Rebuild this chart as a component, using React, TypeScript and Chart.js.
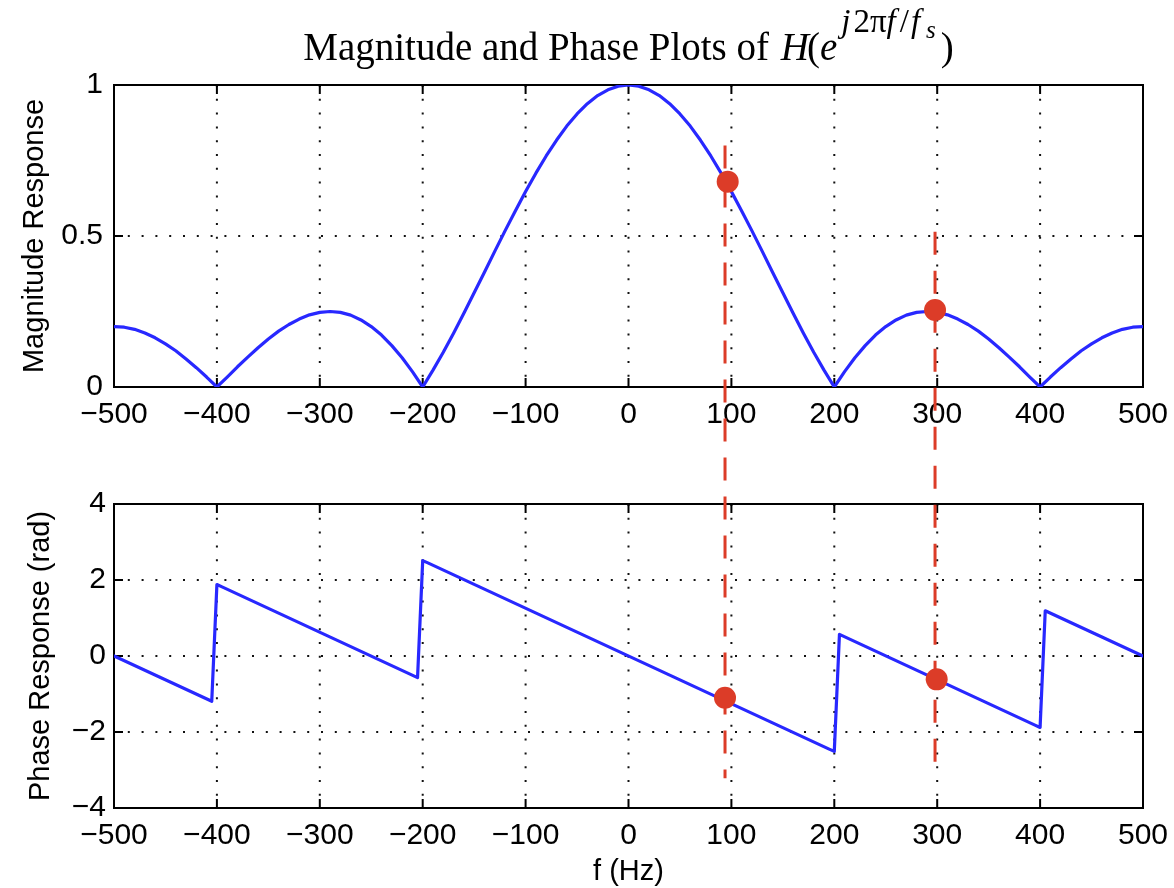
import React, { useEffect, useRef } from "react";
import { Chart, registerables } from "chart.js";

Chart.register(...registerables);

// ---------- data ----------
const FREQ_HZ = [
  -500, -490, -480, -470, -460, -450, -440, -430, -420, -410,
  -400, -390, -380, -370, -360, -350, -340, -330, -320, -310,
  -300, -290, -280, -270, -260, -250, -240, -230, -220, -210,
  -200, -190, -180, -170, -160, -150, -140, -130, -120, -110,
  -100, -90, -80, -70, -60, -50, -40, -30, -20, -10,
  0,
  10, 20, 30, 40, 50, 60, 70, 80, 90, 100,
  110, 120, 130, 140, 150, 160, 170, 180, 190, 200,
  210, 220, 230, 240, 250, 260, 270, 280, 290, 300,
  310, 320, 330, 340, 350, 360, 370, 380, 390, 400,
  410, 420, 430, 440, 450, 460, 470, 480, 490, 500,
];

const MAGNITUDE = [
  0.200, 0.198, 0.191, 0.179, 0.163, 0.143, 0.120, 0.093, 0.064, 0.033,
  0.000, 0.033, 0.067, 0.099, 0.130, 0.159, 0.185, 0.207, 0.225, 0.239,
  0.247, 0.250, 0.247, 0.238, 0.222, 0.200, 0.172, 0.137, 0.097, 0.051,
  0.000, 0.056, 0.115, 0.178, 0.244, 0.312, 0.380, 0.449, 0.517, 0.583,
  0.647, 0.708, 0.765, 0.817, 0.864, 0.904, 0.938, 0.965, 0.984, 0.996,
  1.000,
  0.996, 0.984, 0.965, 0.938, 0.904, 0.864, 0.817, 0.765, 0.708, 0.647,
  0.583, 0.517, 0.449, 0.380, 0.312, 0.244, 0.178, 0.115, 0.056, 0.000,
  0.051, 0.097, 0.137, 0.172, 0.200, 0.222, 0.238, 0.247, 0.250, 0.247,
  0.239, 0.225, 0.207, 0.185, 0.159, 0.130, 0.099, 0.067, 0.033, 0.000,
  0.033, 0.064, 0.093, 0.120, 0.143, 0.163, 0.179, 0.191, 0.198, 0.200,
];

const PHASE_FREQ_HZ = [-500, -405, -400, -395, -205, -200, -195, 195, 200, 205, 395, 400, 405, 500];
const PHASE_RAD = [0, -1.19, 1.88, 1.82, -0.57, 2.51, 2.45, -2.45, -2.51, 0.57, -1.82, -1.88, 1.19, 0];

const MARKER_FREQ_MAG = [96.4, 297.9];
const MARKER_MAG = [0.68, 0.255];
const MARKER_FREQ_PHASE = [93.8, 299.5];
const MARKER_PHASE = [-1.1, -0.615];

const GUIDE_FREQ = [93.8, 297.9];
const GUIDE_TOP_MAG = [0.8, 0.514];
const GUIDE_BOTTOM_PHASE = [-3.22, -3.17];

const X_TICKS = [-500, -400, -300, -200, -100, 0, 100, 200, 300, 400, 500];
const MAG_TICKS = [0, 0.5, 1];
const PHASE_TICKS = [-4, -2, 0, 2, 4];

const TITLE_PARTS = [
  { text: "Magnitude and Phase Plots of ", italic: false, size: 39, rise: 0, gap: 2 },
  { text: "H", italic: true, size: 39, rise: 0, gap: -2 },
  { text: "(", italic: false, size: 39, rise: 0, gap: 0 },
  { text: "e", italic: true, size: 39, rise: 0, gap: 4 },
  { text: "j", italic: true, size: 33, rise: 28, gap: 3 },
  { text: "2", italic: false, size: 33, rise: 28, gap: 0 },
  { text: "\u03c0", italic: false, size: 33, rise: 28, gap: 0 },
  { text: "f", italic: true, size: 33, rise: 28, gap: 4 },
  { text: "/", italic: false, size: 33, rise: 28, gap: 2 },
  { text: "f", italic: true, size: 33, rise: 28, gap: 6 },
  { text: "s", italic: true, size: 25, rise: 22, gap: 5 },
  { text: ")", italic: false, size: 39, rise: 0, gap: 0 },
];

// ---------- styles ----------
const BLUE = "rgb(40,40,255)";
const RED = "#dc3c28";
const SANS = "'Liberation Sans', Arial, Helvetica, sans-serif";
const SERIF = "'Liberation Serif', 'Times New Roman', serif";
const W = 1174;
const TOP_H = 450;
const BOT_H = 438;

const fmt = (v: number) => String(v).replace("-", "\u2212");

const framePlugin = {
  id: "matlabFrame",
  beforeDatasetsDraw(chart: any) {
    const { ctx, chartArea: a, scales } = chart;
    const xs = scales.x;
    const ys = scales.y;
    const xp = xs.ticks.map((t: any) => xs.getPixelForValue(t.value));
    const yp = ys.ticks.map((t: any) => ys.getPixelForValue(t.value));
    ctx.save();
    ctx.strokeStyle = "#111";
    ctx.lineWidth = 2;
    ctx.setLineDash([2, 11.8]);
    for (const px of xp) {
      if (px <= a.left + 2 || px >= a.right - 2) continue;
      ctx.beginPath();
      ctx.moveTo(px, a.top);
      ctx.lineTo(px, a.bottom);
      ctx.stroke();
    }
    for (const py of yp) {
      if (py <= a.top + 2 || py >= a.bottom - 2) continue;
      ctx.beginPath();
      ctx.moveTo(a.left, py);
      ctx.lineTo(a.right, py);
      ctx.stroke();
    }
    ctx.setLineDash([]);
    ctx.strokeStyle = "#000";
    ctx.lineWidth = 2;
    ctx.strokeRect(a.left, a.top, a.right - a.left, a.bottom - a.top);
    const L = 9;
    ctx.beginPath();
    for (const px of xp) {
      ctx.moveTo(px, a.top);
      ctx.lineTo(px, a.top + L);
      ctx.moveTo(px, a.bottom);
      ctx.lineTo(px, a.bottom - L);
    }
    for (const py of yp) {
      ctx.moveTo(a.left, py);
      ctx.lineTo(a.left + L, py);
      ctx.moveTo(a.right, py);
      ctx.lineTo(a.right - L, py);
    }
    ctx.stroke();
    ctx.restore();
  },
};

function xScale(height: number, title?: string) {
  return {
    type: "linear" as const,
    min: -500,
    max: 500,
    afterBuildTicks: (s: any) => {
      s.ticks = X_TICKS.map((v) => ({ value: v }));
    },
    afterFit: (s: any) => {
      s.height = height;
      s.paddingLeft = 0;
      s.paddingRight = 0;
    },
    grid: { display: false, drawTicks: false },
    border: { display: false },
    ticks: {
      autoSkip: false,
      maxRotation: 0,
      padding: 10,
      color: "#000",
      font: { family: SANS, size: 30, lineHeight: 1.2 },
      callback: (v: any) => fmt(Number(v)),
    },
    title: title
      ? {
          display: true,
          text: title,
          color: "#000",
          font: { family: SANS, size: 29, lineHeight: 1 },
          padding: { top: 0, bottom: 2 },
        }
      : { display: false },
  };
}

function yScale(min: number, max: number, ticks: number[], title: string, titlePad: number, tickPad: number) {
  return {
    min,
    max,
    afterBuildTicks: (s: any) => {
      s.ticks = ticks.map((v) => ({ value: v }));
    },
    afterFit: (s: any) => {
      s.width = 114;
      s.paddingTop = 0;
      s.paddingBottom = 0;
    },
    grid: { display: false, drawTicks: false },
    border: { display: false },
    ticks: {
      autoSkip: false,
      padding: tickPad,
      color: "#000",
      font: { family: SANS, size: 30, lineHeight: 1.2 },
      callback: (v: any) => fmt(Number(v)),
    },
    title: {
      display: true,
      text: title,
      color: "#000",
      font: { family: SANS, size: 29, lineHeight: 1 },
      padding: { top: titlePad, bottom: 0 },
    },
  };
}

export default function App() {
  const topRef = useRef<HTMLCanvasElement | null>(null);
  const botRef = useRef<HTMLCanvasElement | null>(null);

  useEffect(() => {
    if (!topRef.current || !botRef.current) return;
    let topChart: any = null;

    const titlePlugin = {
      id: "mathTitle",
      afterDraw(chart: any) {
        const { ctx, chartArea: a } = chart;
        const fontOf = (p: any) => `${p.italic ? "italic " : ""}${p.size}px ${SERIF}`;
        let total = 0;
        ctx.save();
        for (const p of TITLE_PARTS) {
          ctx.font = fontOf(p);
          total += ctx.measureText(p.text).width + p.gap;
        }
        let x = (a.left + a.right) / 2 - total / 2;
        const base = 60;
        ctx.fillStyle = "#000";
        ctx.textBaseline = "alphabetic";
        ctx.textAlign = "left";
        for (const p of TITLE_PARTS) {
          ctx.font = fontOf(p);
          ctx.fillText(p.text, x, base - p.rise);
          x += ctx.measureText(p.text).width + p.gap;
        }
        ctx.restore();
      },
    };

    const makeGuidePlugin = (part: "top" | "bottom") => ({
      id: "guides" + part,
      beforeDatasetDraw(chart: any, args: any) {
        if (args.index !== 0) return;
        const { ctx } = chart;
        const xs = chart.scales.x;
        const ys = chart.scales.y;
        ctx.save();
        ctx.strokeStyle = RED;
        ctx.lineWidth = 3;
        ctx.setLineDash([23, 16]);
        GUIDE_FREQ.forEach((f, i) => {
          const px = xs.getPixelForValue(f);
          let y0 = 0;
          let y1 = 0;
          let offset = 0;
          if (part === "top") {
            y0 = ys.getPixelForValue(GUIDE_TOP_MAG[i]);
            y1 = chart.height;
          } else {
            y0 = 0;
            y1 = ys.getPixelForValue(GUIDE_BOTTOM_PHASE[i]);
            if (topChart) {
              offset = topChart.height - topChart.scales.y.getPixelForValue(GUIDE_TOP_MAG[i]);
            }
          }
          ctx.lineDashOffset = offset;
          ctx.beginPath();
          ctx.moveTo(px, y0);
          ctx.lineTo(px, y1);
          ctx.stroke();
        });
        ctx.restore();
      },
    });

    const common = {
      responsive: false,
      animation: false as const,
      events: [] as any[],
      plugins: { legend: { display: false }, tooltip: { enabled: false } },
    };

    topChart = new Chart(topRef.current, {
      type: "line",
      data: {
        datasets: [
          {
            data: MARKER_FREQ_MAG.map((f, i) => ({ x: f, y: MARKER_MAG[i] })),
            showLine: false,
            pointRadius: 11,
            pointBackgroundColor: RED,
            pointBorderWidth: 0,
            clip: false,
          } as any,
          {
            data: FREQ_HZ.map((f, i) => ({ x: f, y: MAGNITUDE[i] })),
            borderColor: BLUE,
            borderWidth: 3.2,
            pointRadius: 0,
            tension: 0,
            borderJoinStyle: "round",
            borderCapStyle: "round",
          },
        ],
      },
      options: {
        ...common,
        layout: { padding: { top: 85, right: 31, bottom: 0, left: 0 } },
        scales: {
          x: xScale(TOP_H - 387),
          y: yScale(0, 1, MAG_TICKS, "Magnitude Response", 20, 11),
        },
      } as any,
      plugins: [framePlugin, makeGuidePlugin("top"), titlePlugin],
    });

    const botChart = new Chart(botRef.current, {
      type: "line",
      data: {
        datasets: [
          {
            data: MARKER_FREQ_PHASE.map((f, i) => ({ x: f, y: MARKER_PHASE[i] })),
            showLine: false,
            pointRadius: 11,
            pointBackgroundColor: RED,
            pointBorderWidth: 0,
            clip: false,
          } as any,
          {
            data: PHASE_FREQ_HZ.map((f, i) => ({ x: f, y: PHASE_RAD[i] })),
            borderColor: BLUE,
            borderWidth: 3.2,
            pointRadius: 0,
            tension: 0,
            borderJoinStyle: "round",
            borderCapStyle: "round",
          },
        ],
      },
      options: {
        ...common,
        layout: { padding: { top: 504 - TOP_H, right: 31, bottom: 0, left: 0 } },
        scales: {
          x: xScale(80, "f (Hz)"),
          y: yScale(-4, 4, PHASE_TICKS, "Phase Response (rad)", 26, 8),
        },
      } as any,
      plugins: [framePlugin, makeGuidePlugin("bottom")],
    });

    return () => {
      topChart.destroy();
      botChart.destroy();
    };
  }, []);

  return (
    <div style={{ position: "absolute", left: 0, top: 0, width: W, height: TOP_H + BOT_H, background: "#fff" }}>
      <canvas ref={topRef} width={W} height={TOP_H} style={{ position: "absolute", left: 0, top: 0, display: "block" }} />
      <canvas ref={botRef} width={W} height={BOT_H} style={{ position: "absolute", left: 0, top: TOP_H, display: "block" }} />
    </div>
  );
}
